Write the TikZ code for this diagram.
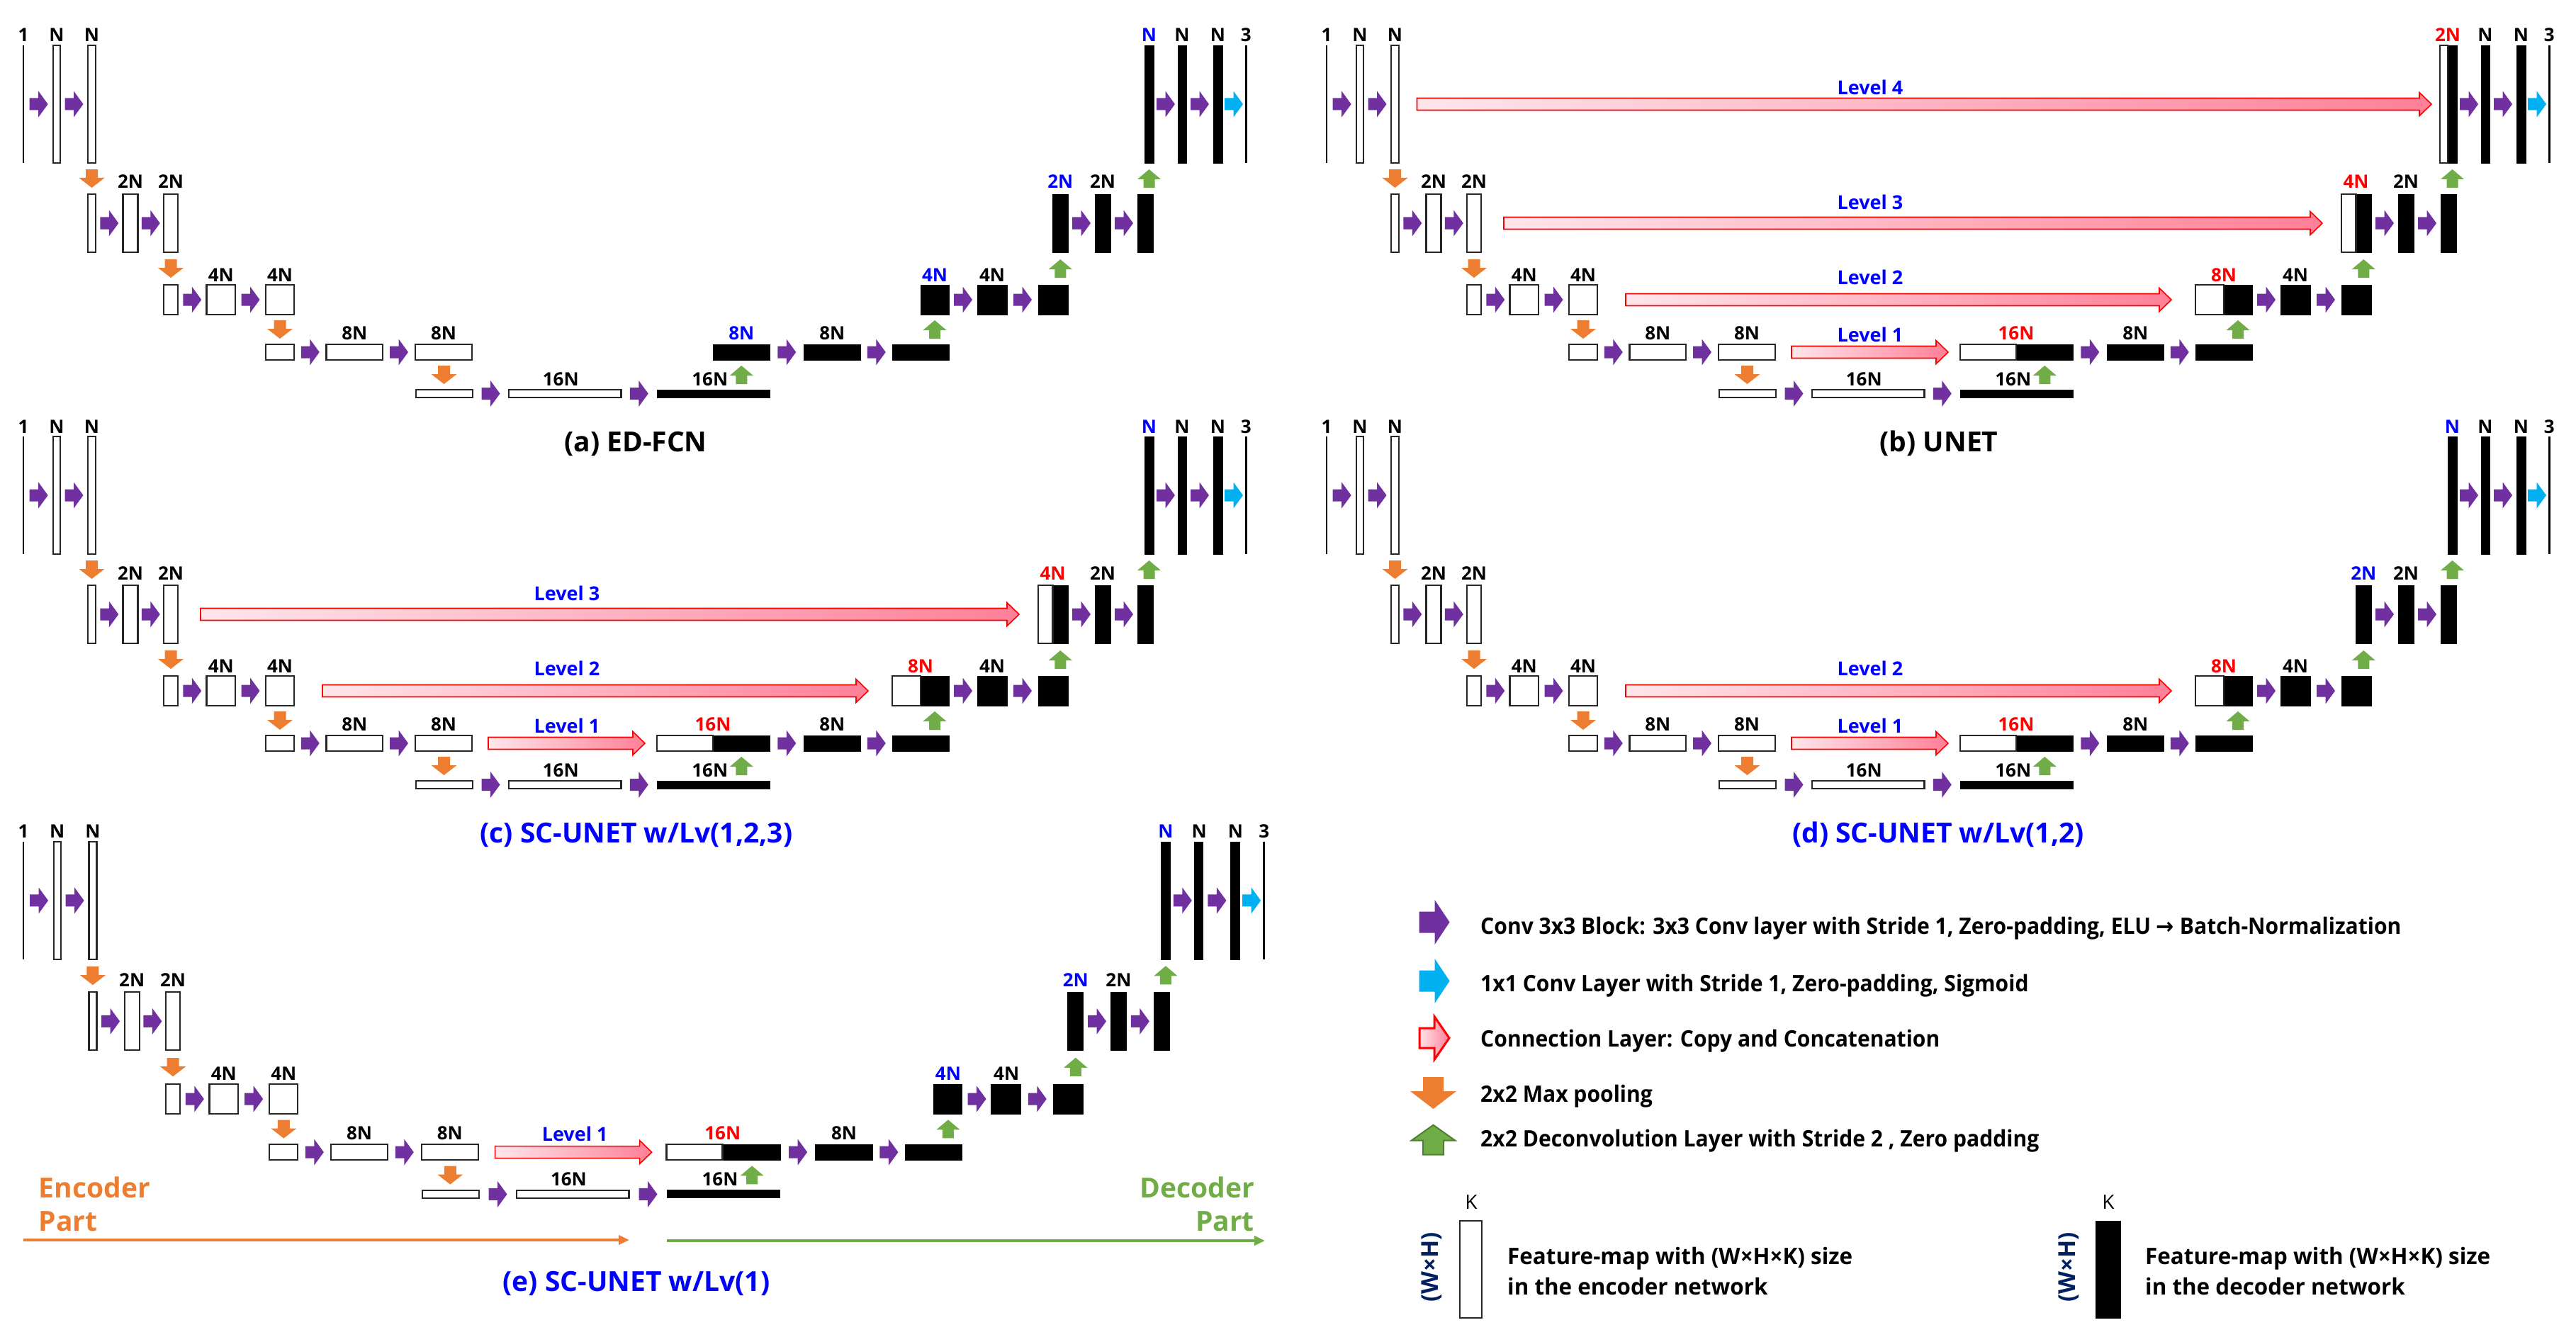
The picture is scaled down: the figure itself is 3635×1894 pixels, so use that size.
\documentclass[tikz,border=0pt]{standalone}
\usepackage{fontspec}
\setmainfont{Open Sans}
\newfontfamily\legf{Open Sans}[FakeStretch=0.94]
\newfontfamily\legg{Open Sans}[FakeStretch=0.98]
\newfontfamily\djv{DejaVu Sans}[FakeStretch=0.94]
\usetikzlibrary{calc,arrows.meta}

\definecolor{cpur}{HTML}{7030A0}
\definecolor{ccya}{HTML}{00B0F0}
\definecolor{cora}{HTML}{ED7D31}
\definecolor{cgre}{HTML}{70AD47}
\definecolor{cgrd}{HTML}{507E32}
\definecolor{cblu}{HTML}{0000FF}
\definecolor{cred}{HTML}{FF0000}
\definecolor{cnav}{HTML}{002060}
\definecolor{cfl}{HTML}{FFE6EB}
\definecolor{cfr}{HTML}{FF8098}

\newcommand\mylbl{\bfseries\fontsize{26}{30}\selectfont}
\newcommand\mylvl{\bfseries\fontsize{27}{31}\selectfont}
\newcommand\mycap{\bfseries\fontsize{39}{44}\selectfont}
\newcommand\myleg{\legf\bfseries\fontsize{32}{36}\selectfont}
\newcommand\mylegb{\legg\bfseries\fontsize{32}{36}\selectfont}

\tikzset{
  enc/.style={draw=black!85, line width=2.2pt, fill=white, inner sep=0pt, outer sep=0pt},
  dec/.style={draw=black, fill=black, line width=0.8pt, inner sep=0pt, outer sep=0pt},
  thinl/.style={fill=black, draw=none, inner sep=0pt, outer sep=0pt},
  lab/.style={font=\mylbl, text=black, inner sep=0pt, anchor=base},
  labb/.style={lab, text=cblu},
  labr/.style={lab, text=cred},
  lvl/.style={font=\mylvl, text=cblu, inner sep=0pt},
  captxt/.style={font=\mycap, inner sep=0pt},
  legt/.style={font=\myleg, inner sep=0pt, anchor=base west},
  legu/.style={font=\mylegb, inner sep=0pt, anchor=base west},
  pics/rarr/.style={code={\fill[#1] (-13,-8.5) -- (-0.5,-8.5) -- (-0.5,-18.5) -- (13,0) -- (-0.5,18.5) -- (-0.5,8.5) -- (-13,8.5) -- cycle;}},
  pics/darr/.style={code={\fill[#1] (-8.5,-13) -- (8.5,-13) -- (8.5,-1) -- (18,-1) -- (0,13) -- (-18,-1) -- (-8.5,-1) -- cycle;}},
  pics/uarr/.style={code={\fill[#1] (-8,13) -- (8,13) -- (8,1) -- (16.5,1) -- (0,-13) -- (-16.5,1) -- (-8,1) -- cycle;}},
  pics/conn/.style={code={\shadedraw[left color=cfl, right color=cfr, draw=cred, line width=1.6pt] (0,-8.5) -- ({#1-17},-8.5) -- ({#1-17},-16.5) -- (#1,0) -- ({#1-17},16.5) -- ({#1-17},8.5) -- (0,8.5) -- cycle;}},
  pics/lrarr/.style={code={\fill[#1] (-21.5,-15) -- (0.5,-15) -- (0.5,-31.5) -- (21.5,0) -- (0.5,31.5) -- (0.5,15) -- (-21.5,15) -- cycle;}},
  pics/lconn/.style={code={\shadedraw[left color=cfl, right color=cfr, draw=cred, line width=3pt] (0,-14) -- (21,-14) -- (21,-30.5) -- (42,0) -- (21,30.5) -- (21,14) -- (0,14) -- cycle;}},
  pics/ldarr/.style={code={\fill[#1] (-14.5,-22.5) -- (14.5,-22.5) -- (14.5,-2.5) -- (32.5,-2.5) -- (0,22.5) -- (-32.5,-2.5) -- (-14.5,-2.5) -- cycle;}},
  pics/luarr/.style={code={\filldraw[fill=cgre, draw=cgrd, line width=2pt] (-14.5,21) -- (14.5,21) -- (14.5,1) -- (31,1) -- (0,-21) -- (-31,1) -- (-14.5,1) -- cycle;}},
}

% box node from its corners: style, name, x1, y1, x2, y2
\newcommand\bx[6]{\node[#1, minimum width={(#5)-(#3)}, minimum height={(#6)-(#4)}] (#2) at ({((#3)+(#5))/2},{((#4)+(#6))/2}) {};}

% one network: prefix, level1, level2, level3, level4
\newcommand\unet[5]{%
  % encoder
  \bx{thinl}{#1E0}{31.8}{64}{34.3}{230}
  \bx{enc}{#1E1a}{75}{64}{85}{230}
  \bx{enc}{#1E1b}{124}{64}{135}{230}
  \bx{enc}{#1E2a}{124}{274}{135}{356}
  \bx{enc}{#1E2b}{173.5}{274}{194.5}{356}
  \bx{enc}{#1E2c}{231}{274}{251}{356}
  \bx{enc}{#1E3a}{231}{402}{251}{444}
  \bx{enc}{#1E3b}{291.5}{402}{332}{444}
  \bx{enc}{#1E3c}{375}{402}{415}{444}
  \bx{enc}{#1E4a}{375}{486}{415}{508}
  \bx{enc}{#1E4b}{460.5}{486}{540}{508}
  \bx{enc}{#1E4c}{586}{486}{666}{508}
  \bx{enc}{#1E5a}{587}{550}{667}{561}
  \bx{enc}{#1E5b}{718}{550}{876.5}{561}
  % decoder
  \bx{dec}{#1D5}{927}{550}{1086.5}{561}
  \bx{dec}{#1D4a}{1006}{486}{1086.5}{508}
  \bx{dec}{#1D4b}{1134}{486}{1214.5}{508}
  \bx{dec}{#1D4c}{1259}{486}{1339}{508}
  \bx{dec}{#1D3a}{1299}{402}{1339}{444}
  \bx{dec}{#1D3b}{1379}{402}{1421}{444}
  \bx{dec}{#1D3c}{1465}{402}{1507}{444}
  \bx{dec}{#1D2a}{1485.5}{274}{1507}{356}
  \bx{dec}{#1D2b}{1545}{274}{1567}{356}
  \bx{dec}{#1D2c}{1605}{274}{1627}{356}
  \bx{dec}{#1D1a}{1615}{64}{1628}{230}
  \bx{dec}{#1D1b}{1662}{64}{1674}{230}
  \bx{dec}{#1D1c}{1712}{64}{1725}{230}
  \bx{thinl}{#1D0}{1757}{64}{1759.5}{230}
  % size labels
  \node[lab] (#1tE0) at ([yshift=5pt]#1E0.north) {1};
  \node[lab] (#1tE1a) at ([yshift=5pt]#1E1a.north) {N};
  \node[lab] (#1tE1b) at ([yshift=5pt]#1E1b.north) {N};
  \node[lab] (#1tE2b) at ([yshift=8pt]#1E2b.north) {2N};
  \node[lab] (#1tE2c) at ([yshift=8pt]#1E2c.north) {2N};
  \node[lab] (#1tE3b) at ([yshift=5pt]#1E3b.north) {4N};
  \node[lab] (#1tE3c) at ([yshift=5pt]#1E3c.north) {4N};
  \node[lab] (#1tE4b) at ([yshift=7pt]#1E4b.north) {8N};
  \node[lab] (#1tE4c) at ([yshift=7pt]#1E4c.north) {8N};
  \node[lab] (#1tE5b) at ([xshift=-6pt,yshift=6pt]#1E5b.north) {16N};
  \node[lab] (#1tD5) at ([xshift=-5pt,yshift=6pt]#1D5.north) {16N};
  \node[lab] (#1tD4b) at ([yshift=7pt]#1D4b.north) {8N};
  \node[lab] (#1tD3b) at ([yshift=5pt]#1D3b.north) {4N};
  \node[lab] (#1tD2b) at ([yshift=8pt]#1D2b.north) {2N};
  \node[lab] (#1tD1b) at ([yshift=5pt]#1D1b.north) {N};
  \node[lab] (#1tD1c) at ([yshift=5pt]#1D1c.north) {N};
  \node[lab] (#1tD0) at ([yshift=5pt]#1D0.north) {3};
  % skip connections
  \ifnum#2=1
    \bx{enc}{#1W1}{927}{486}{1006}{508}
    \node[labr] (#1tW1) at ([yshift=7pt]#1W1.north east) {16N};
    \coordinate (#1C1) at (689,497);
    \pic at (#1C1) {conn=221};
    \node[lvl] (#1L1) at (800,472) {Level 1};
  \else
    \node[labb] (#1tD4a) at ([yshift=7pt]#1D4a.north) {8N};
  \fi
  \ifnum#3=1
    \bx{enc}{#1W2}{1259}{402}{1299}{444}
    \node[labr] (#1tW2) at ([yshift=5pt]#1W2.north east) {8N};
    \coordinate (#1C2) at (455,423);
    \pic at (#1C2) {conn=770};
    \node[lvl] (#1L2) at (800,391) {Level 2};
  \else
    \node[labb] (#1tD3a) at ([yshift=5pt]#1D3a.north) {4N};
  \fi
  \ifnum#4=1
    \bx{enc}{#1W3}{1465}{274}{1485.5}{356}
    \node[labr] (#1tW3) at ([yshift=8pt]#1W3.north east) {4N};
    \coordinate (#1C3) at (283,315);
    \pic at (#1C3) {conn=1155};
    \node[lvl] (#1L3) at (800,285) {Level 3};
  \else
    \node[labb] (#1tD2a) at ([yshift=8pt]#1D2a.north) {2N};
  \fi
  \ifnum#5=1
    \bx{enc}{#1W4}{1604}{64}{1615}{230}
    \node[labr] (#1tW4) at ([yshift=5pt]#1W4.north east) {2N};
    \coordinate (#1C4) at (160.5,147);
    \pic at (#1C4) {conn=1431.5};
    \node[lvl] (#1L4) at (800,123) {Level 4};
  \else
    \node[labb] (#1tD1a) at ([yshift=5pt]#1D1a.north) {N};
  \fi
  % 3x3 conv arrows
  \foreach \u/\v in {E0/E1a,E1a/E1b,E2a/E2b,E2b/E2c,E3a/E3b,E3b/E3c,E4a/E4b,E4b/E4c,E5a/E5b,E5b/D5,D4a/D4b,D4b/D4c,D3a/D3b,D3b/D3c,D2a/D2b,D2b/D2c,D1a/D1b,D1b/D1c}
    {\pic at ($(#1\u.east)!.5!(#1\v.west)$) {rarr=cpur};}
  \pic at ($(#1D1c.east)!.5!(#1D0.west)$) {rarr=ccya};
  % max pooling
  \pic at ($(#1E1b.south)!.5!(#1E2a.north)$) {darr=cora};
  \pic at ($(#1E2c.south)!.5!(#1E3a.north)$) {darr=cora};
  \pic at ($(#1E3c.south)!.5!(#1E4a.north)$) {darr=cora};
  \pic at ($(#1E4c.south)!.5!(#1E5a.north)$) {darr=cora};
  % deconvolution
  \pic at ([yshift=-21pt]#1D4a.south) {uarr=cgre};
  \pic at ([yshift=-21pt]#1D3a.south) {uarr=cgre};
  \pic at ([yshift=-23pt]#1D2a.south) {uarr=cgre};
  \pic at ([yshift=-22pt]#1D1a.south) {uarr=cgre};
}

\begin{document}
\begin{tikzpicture}[x=1pt,y=-1pt]
\useasboundingbox (0,0) rectangle (3635,1894);
\fill[white] (0,0) rectangle (3635,1894);

\begin{scope}\unet{a}{0}{0}{0}{0}\end{scope}
\begin{scope}[shift={(1839,0)}]\unet{b}{1}{1}{1}{1}\end{scope}
\begin{scope}[shift={(0,552)}]\unet{c}{1}{1}{1}{0}\end{scope}
\begin{scope}[shift={(1839,552)}]\unet{d}{1}{1}{0}{0}\end{scope}
\begin{scope}[shift={(33,1186.7)},scale=1.0145,shift={(-33,-64)}]\unet{e}{1}{0}{0}{0}\end{scope}

% captions
\node[captxt] (capa) at (897,626) {(a) ED-FCN};
\node[captxt] (capb) at (2736,626) {(b) UNET};
\node[captxt, text=cblu] (capc) at (898,1178) {(c) SC-UNET w/Lv(1,2,3)};
\node[captxt, text=cblu] (capd) at (2735,1178) {(d) SC-UNET w/Lv(1,2)};
\node[captxt, text=cblu] (cape) at (898,1811) {(e) SC-UNET w/Lv(1)};

% encoder / decoder part
\node[captxt, text=cora, anchor=base west] (encT1) at (54.5,1690) {Encoder};
\node[captxt, text=cora, anchor=base west] (encT2) at (54.5,1737) {Part};
\node[captxt, text=cgre, anchor=base east] (decT1) at (1770,1690) {Decoder};
\node[captxt, text=cgre, anchor=base east] (decT2) at (1770,1737) {Part};
\coordinate (encA) at (33,1750);
\coordinate (encB) at (888,1750);
\coordinate (decA) at (940.6,1751);
\coordinate (decB) at (1785,1751);
\draw[cora, line width=4.5pt, -{Triangle[length=15pt,width=13pt]}] (encA) -- (encB);
\draw[cgre, line width=4.5pt, -{Triangle[length=15pt,width=13pt]}] (decA) -- (decB);

% legend
\pic at (2024,1301.5) {lrarr=cpur};
\pic at (2024,1384.5) {lrarr=ccya};
\coordinate (lgC) at (2003,1465);
\pic at (lgC) {lconn};
\pic at (2022.5,1542.5) {ldarr=cora};
\pic at (2022.5,1608.7) {luarr};
\node[legt] (lg1) at (2089,1318) {Conv 3x3 Block: 3x3 Conv layer with Stride 1, Zero-padding, ELU {\djv\bfseries →} Batch-Normalization};
\node[legt] (lg2) at (2089,1399) {1x1 Conv Layer with Stride 1, Zero-padding, Sigmoid};
\node[legt] (lg3) at (2089,1477) {Connection Layer: Copy and Concatenation};
\node[legt] (lg4) at (2089,1555) {2x2 Max pooling};
\node[legt] (lg5) at (2089,1618) {2x2 Deconvolution Layer with Stride 2 , Zero padding};

\bx{enc}{lgE}{2060}{1723}{2091}{1860}
\node[font=\fontsize{28}{30}\selectfont, inner sep=0pt, anchor=base] (lgEK) at (2076,1706) {K};
\node[font=\bfseries\fontsize{33}{36}\selectfont, text=cnav, rotate=90, inner sep=0pt] (lgEW) at (2020,1788) {(W×H)};
\node[legu] (lgE1) at (2127,1784) {Feature-map with (W×H×K) size};
\node[legu] (lgE2) at (2127,1827) {in the encoder network};

\bx{dec}{lgD}{2957}{1723}{2992}{1860}
\node[font=\fontsize{28}{30}\selectfont, inner sep=0pt, anchor=base] (lgDK) at (2975,1706) {K};
\node[font=\bfseries\fontsize{33}{36}\selectfont, text=cnav, rotate=90, inner sep=0pt] (lgDW) at (2919,1788) {(W×H)};
\node[legu] (lgD1) at (3027,1784) {Feature-map with (W×H×K) size};
\node[legu] (lgD2) at (3027,1827) {in the decoder network};
\end{tikzpicture}
\end{document}
